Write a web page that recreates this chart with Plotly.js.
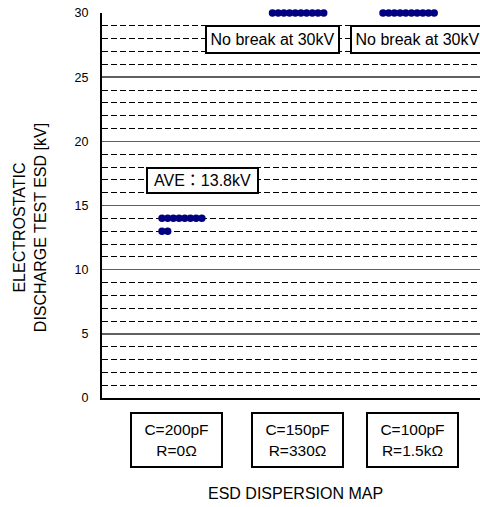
<!DOCTYPE html>
<html>
<head>
<meta charset="utf-8">
<script src="https://cdn.plot.ly/plotly-3.0.1.min.js"></script>
<style>html,body{margin:0;padding:0;background:#fff;}#chart{width:480px;height:507px;}</style>
</head>
<body>
<div id="chart"></div>
<script>
// ---- data ----
const categories = ['C=200pF<br>R=0Ω', 'C=150pF<br>R=330Ω', 'C=100pF<br>R=1.5kΩ'];
const esd200pF = [14, 14, 14, 14, 14, 14, 14, 14, 13, 13];
const esd150pF = [30, 30, 30, 30, 30, 30, 30, 30, 30, 30];
const esd100pF = [30, 30, 30, 30, 30, 30, 30, 30, 30, 30];
const yTickVals = [0, 5, 10, 15, 20, 25, 30];
const noBreakLabel = 'No break at 30kV';
const yTitle = 'ELECTROSTATIC<br>DISCHARGE TEST ESD [kV]';
const xTitle = 'ESD DISPERSION MAP';

// ---- build dot-plot positions (stack equal values side by side) ----
const groups = [esd200pF, esd150pF, esd100pF];
const STEP = 0.0515; // horizontal spacing between stacked dots (axis units)
const xs = [], ys = [];
groups.forEach((vals, g) => {
  const count = {};
  vals.forEach(v => {
    const k = count[v] || 0;
    count[v] = k + 1;
    xs.push(g + k * STEP);
    ys.push(v);
  });
});
const mean200 = esd200pF.reduce((a, b) => a + b, 0) / esd200pF.length;
const aveLabel = 'AVE：' + mean200.toFixed(1) + 'kV';

const FONT = 'Liberation Sans, Arial, Noto Sans CJK JP, sans-serif';

const trace = {
  type: 'scatter', mode: 'markers', x: xs, y: ys,
  marker: {size: 7.5, color: '#000080', line: {width: 0}},
  cliponaxis: false, hoverinfo: 'skip', showlegend: false
};

function boxAnn(text, x, y, w, h, xref, yref) {
  return {
    text: text, x: x, y: y, xref: xref, yref: yref,
    showarrow: false, xanchor: 'center', yanchor: 'middle',
    width: w, height: h, align: 'center', valign: 'middle',
    bgcolor: '#ffffff', bordercolor: '#000000', borderwidth: 2, borderpad: 1,
    font: {family: FONT, size: 16, color: '#000'}
  };
}

const catX = [0.127, 1.226, 2.271];
const annotations = [
  boxAnn(noBreakLabel, 1.0, 27.9, 129, 23, 'x', 'y'),
  boxAnn(noBreakLabel, 2.308, 27.9, 129, 23, 'x', 'y'),
  boxAnn(aveLabel, 0.371, 16.91, 107, 21, 'x', 'y'),
];
categories.forEach((c, i) => {
  const a = boxAnn(c, catX[i], -0.108, 87, 50, 'x', 'paper');
  a.font.size = 15.5;
  annotations.push(a);
});
annotations.push({
  text: xTitle, x: 1.208, y: -0.247, xref: 'x', yref: 'paper',
  showarrow: false, xanchor: 'center', yanchor: 'middle',
  font: {family: FONT, size: 16, color: '#000'}
});
annotations.push({
  text: yTitle, x: -0.19, y: 0.4416, xref: 'paper', yref: 'paper',
  showarrow: false, xanchor: 'center', yanchor: 'middle', textangle: -90,
  font: {family: FONT, size: 16, color: '#000'}
});

const layout = {
  width: 480, height: 507,
  margin: {l: 102, r: 0, t: 13, b: 109, autoexpand: false},
  paper_bgcolor: '#fff', plot_bgcolor: '#fff',
  showlegend: false,
  font: {family: FONT, color: '#000'},
  xaxis: {
    range: [-0.543, 2.878], showgrid: false, zeroline: false,
    showticklabels: false, ticks: '',
    showline: true, linecolor: '#000', linewidth: 1.5
  },
  yaxis: {
    range: [0, 30], tickvals: yTickVals, ticks: '',
    ticklabelstandoff: 9,
    tickfont: {family: FONT, size: 12.5, color: '#000'},
    showgrid: true, gridcolor: '#606060', gridwidth: 1.5,
    zeroline: false,
    showline: true, linecolor: '#000', linewidth: 2,
    minor: {dtick: 1, tick0: 0, showgrid: true, gridcolor: '#000', gridwidth: 1, griddash: '6px,3px', ticks: ''}
  },
  annotations: annotations
};

Plotly.newPlot('chart', [trace], layout, {displayModeBar: false, staticPlot: true});
</script>
</body>
</html>
